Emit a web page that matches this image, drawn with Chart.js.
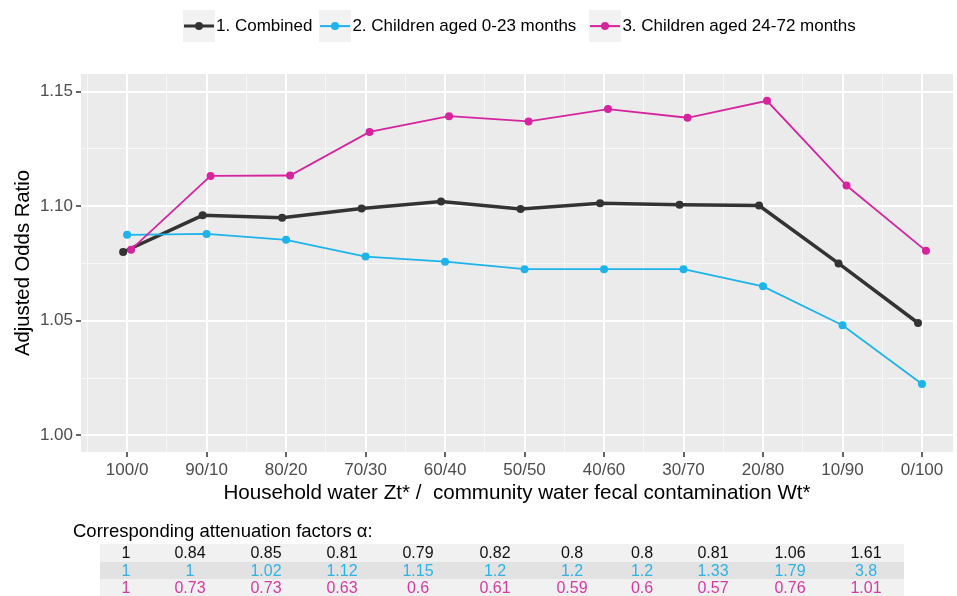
<!DOCTYPE html>
<html><head><meta charset="utf-8">
<script src="https://cdn.jsdelivr.net/npm/chart.js@4.4.0/dist/chart.umd.min.js"></script>
<style>
body{margin:0;background:#fff;font-family:"Liberation Sans",Arial,sans-serif;}
#wrap{position:relative;width:957px;height:596px;overflow:hidden;}
#c{position:absolute;left:0;top:0;}
#legend{position:absolute;left:183px;top:10px;display:flex;align-items:center;font-size:17px;color:#000;white-space:nowrap;}
.item{display:flex;align-items:center;}
.key{position:relative;width:32px;height:32px;background:#f2f2f2;margin-right:1px;}
.key .ln{position:absolute;left:1px;right:1px;top:50%;transform:translateY(-50%);}
.key .dot{position:absolute;left:50%;top:50%;border-radius:50%;transform:translate(-50%,-50%);}
#caption{position:absolute;left:73px;top:520px;font-size:18.5px;line-height:22px;color:#000;white-space:nowrap;}
#tbl{position:absolute;left:100px;top:544px;border-collapse:collapse;table-layout:fixed;font-size:16px;}
#tbl td{padding:0;text-align:center;white-space:nowrap;}
</style></head>
<body>
<div id="wrap">
<canvas id="c" width="957" height="596"></canvas>
<div id="legend"></div>
<div id="caption">Corresponding attenuation factors α:</div>
<table id="tbl"></table>
</div>
<script>
// ---- data ----
const xLabels = ['100/0','90/10','80/20','70/30','60/40','50/50','40/60','30/70','20/80','10/90','0/100'];
const seriesNames = ['1. Combined','2. Children aged 0-23 months','3. Children aged 24-72 months'];
const combined     = [1.080, 1.096, 1.095, 1.099, 1.102, 1.0988, 1.1013, 1.1006, 1.1003, 1.075, 1.049];
const children0_23 = [1.0875, 1.0879, 1.0853, 1.078, 1.0758, 1.0725, 1.0725, 1.0725, 1.065, 1.048, 1.0224];
const children24_72= [1.081, 1.1132, 1.1134, 1.1324, 1.1393, 1.137, 1.1424, 1.1386, 1.146, 1.109, 1.0805];
const yTicks = [1.00, 1.05, 1.10, 1.15];
const alphaCombined = ['1','0.84','0.85','0.81','0.79','0.82','0.8','0.8','0.81','1.06','1.61'];
const alpha0_23     = ['1','1','1.02','1.12','1.15','1.2','1.2','1.2','1.33','1.79','3.8'];
const alpha24_72    = ['1','0.73','0.73','0.63','0.6','0.61','0.59','0.6','0.57','0.76','1.01'];

// ---- styles ----
const colors = ['#333333','#1cb4ea','#d6249f'];
const tableColors = ['#111111','#2fb2e6','#d43a9f'];
const rowBg = ['#f1f1f1','#e2e2e2','#f1f1f1'];
const rowH = [18,17,17];
const colW = [52,76,76,76,76,78,76,64,78,76,76];
const lineW = [3.5,1.8,1.8];
const legendGap = [7,13,0];
const dodge = [-0.05, 0, 0.05];
const drawOrder = [3,2,1];

function pts(vals, d){ return vals.map((v,i)=>({x:i+d, y:v})); }
const allSeries = [combined, children0_23, children24_72];

const panelBg = { id:'panelBg', beforeDraw(chart){ const {ctx, chartArea:a} = chart; ctx.save(); ctx.fillStyle='#ebebeb'; ctx.fillRect(a.left,a.top,a.right-a.left,a.bottom-a.top); ctx.restore(); } };

const isMajorY = v => yTicks.some(t => Math.abs(t - v) < 1e-6);
const isMajorX = v => Math.abs(v - Math.round(v)) < 1e-6;
const FONT = '"Liberation Sans", Arial, sans-serif';

new Chart(document.getElementById('c'), {
  type:'line',
  data:{ datasets: allSeries.map((s,k)=>({
    label: seriesNames[k], data: pts(s, dodge[k]),
    borderColor: colors[k], backgroundColor: colors[k], borderWidth: lineW[k],
    pointRadius: 4, pointBorderWidth: 0, pointBackgroundColor: colors[k],
    tension: 0, order: drawOrder[k]
  }))},
  options:{
    responsive:false, animation:false,
    layout:{ padding:{ top:74, left:0, right:2, bottom:90 } },
    plugins:{ legend:{display:false}, tooltip:{enabled:false} },
    scales:{
      x:{
        type:'linear', bounds:'data', min:-0.58, max:10.39,
        afterBuildTicks(s){ const t=[{value:-0.5}]; for(let i=0;i<xLabels.length;i++){ t.push({value:i}); if(i<xLabels.length-1) t.push({value:i+0.5}); } s.ticks=t; },
        afterFit(s){ s.height = 54; },
        border:{display:false},
        grid:{
          color: c => isMajorX(c.tick.value) ? '#ffffff' : '#f7f7f7',
          lineWidth: c => isMajorX(c.tick.value) ? 2 : 1,
          tickLength:5,
          tickColor: c => isMajorX(c.tick.value) ? '#333333' : 'rgba(0,0,0,0)',
          tickWidth:1.5
        },
        ticks:{ autoSkip:false, maxRotation:0, padding:3, color:'#4d4d4d', font:{size:17, family:FONT},
          callback: v => isMajorX(v) ? xLabels[Math.round(v)] : '' },
        title:{ display:true, text:'Household water Zt* /  community water fecal contamination Wt*', color:'#000', font:{size:20.6, family:FONT}, padding:{top:0,bottom:0} }
      },
      y:{
        type:'linear', bounds:'data', min:0.9927, max:1.1577,
        afterBuildTicks(s){ const t=[]; for(let i=0;i<yTicks.length;i++){ t.push({value:yTicks[i]}); if(i<yTicks.length-1) t.push({value:(yTicks[i]+yTicks[i+1])/2}); } s.ticks=t; },
        afterFit(s){ s.width = 81; },
        border:{display:false},
        grid:{
          color: c => isMajorY(c.tick.value) ? '#ffffff' : '#f7f7f7',
          lineWidth: c => isMajorY(c.tick.value) ? 2 : 1,
          tickLength:5,
          tickColor: c => isMajorY(c.tick.value) ? '#333333' : 'rgba(0,0,0,0)',
          tickWidth:1.5
        },
        ticks:{ autoSkip:false, padding:3, color:'#4d4d4d', font:{size:17, family:FONT},
          callback: v => isMajorY(v) ? v.toFixed(2) : '' },
        title:{ display:true, text:'Adjusted Odds Ratio', color:'#000', font:{size:20.3, family:FONT}, padding:{top:11,bottom:0} }
      }
    }
  },
  plugins:[panelBg]
});

// legend
const leg = document.getElementById('legend');
seriesNames.forEach((n,k)=>{
  const it = document.createElement('div'); it.className='item'; it.style.marginRight=legendGap[k]+'px';
  const key = document.createElement('div'); key.className='key';
  const ln = document.createElement('div'); ln.className='ln'; ln.style.height=(k===0?3:1.8)+'px'; ln.style.background=colors[k];
  const dot = document.createElement('div'); dot.className='dot'; dot.style.width='8px'; dot.style.height='8px'; dot.style.background=colors[k];
  key.appendChild(ln); key.appendChild(dot);
  const tx = document.createElement('span'); tx.textContent=n;
  it.appendChild(key); it.appendChild(tx); leg.appendChild(it);
});

// table
const tbl = document.getElementById('tbl');
const cg = document.createElement('colgroup');
colW.forEach(w=>{ const c=document.createElement('col'); c.style.width=w+'px'; cg.appendChild(c); });
tbl.appendChild(cg);
[alphaCombined, alpha0_23, alpha24_72].forEach((row,r)=>{
  const tr = document.createElement('tr'); tr.style.background=rowBg[r]; tr.style.height=rowH[r]+'px';
  row.forEach(v=>{ const td=document.createElement('td'); td.textContent=v; td.style.color=tableColors[r]; td.style.height=rowH[r]+'px'; td.style.lineHeight=rowH[r]+'px'; tr.appendChild(td); });
  tbl.appendChild(tr);
});
</script>
</body></html>
